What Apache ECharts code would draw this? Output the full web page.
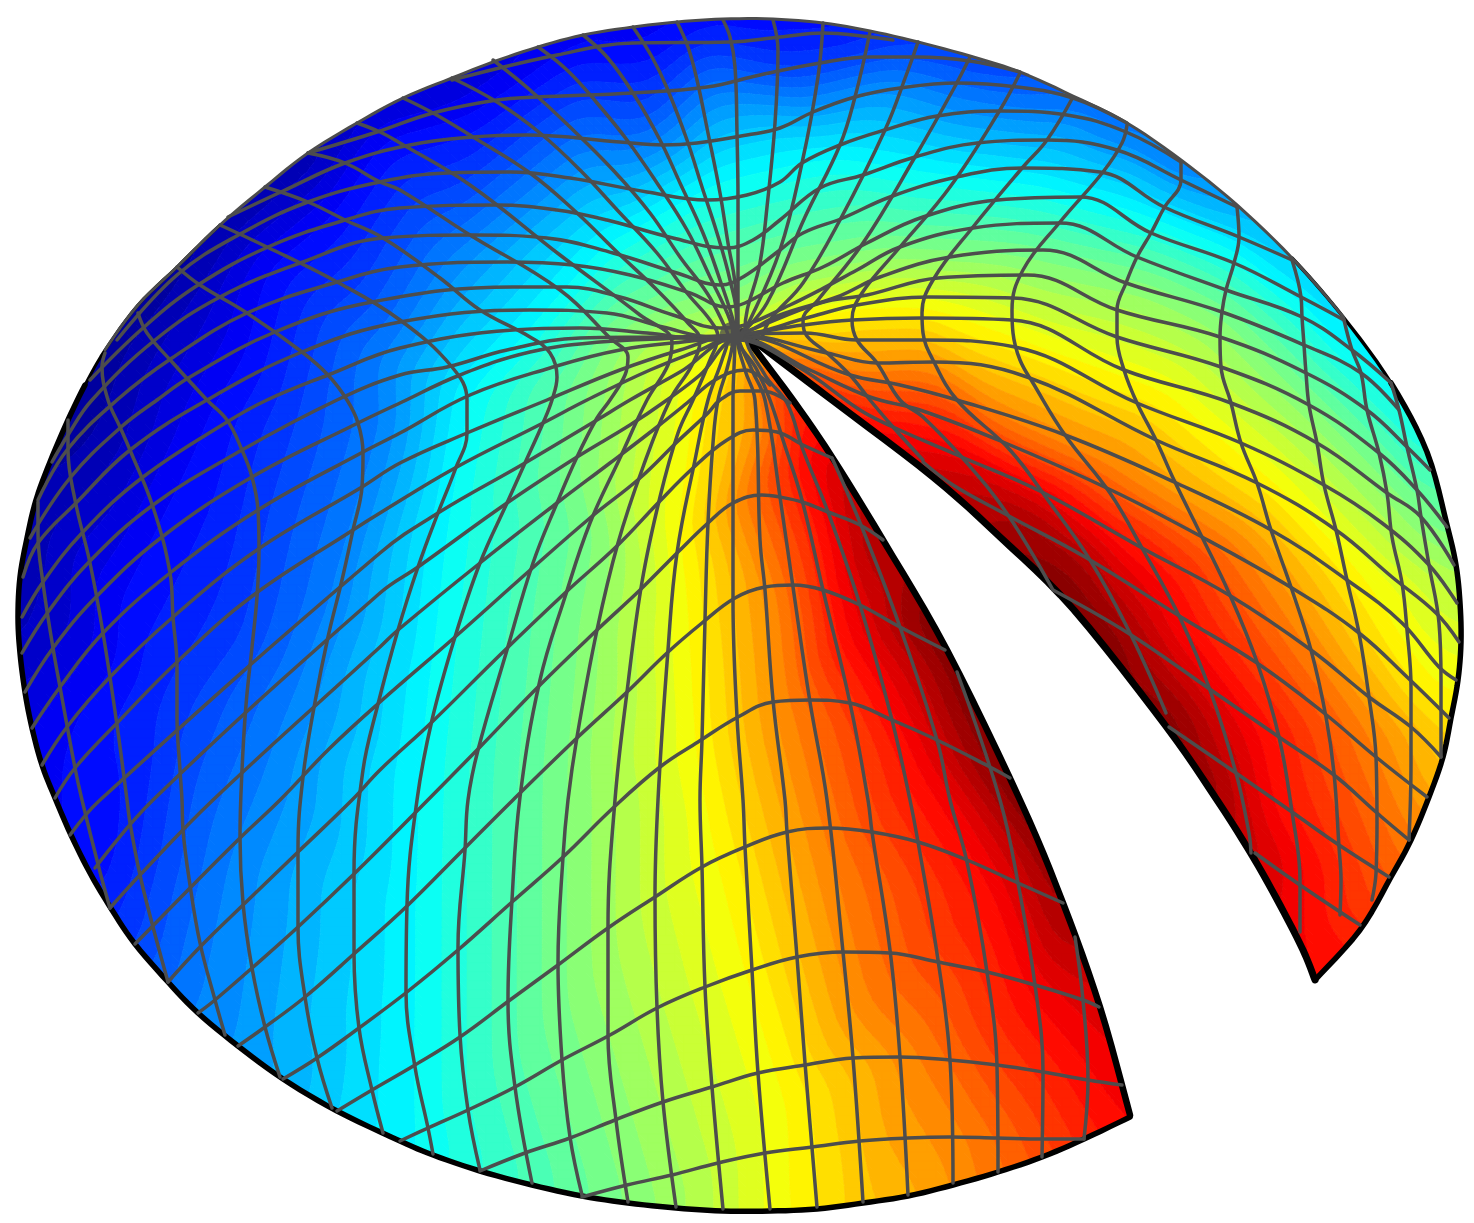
<!DOCTYPE html>
<html><head><meta charset="utf-8"><style>html,body{margin:0;padding:0;background:#fff}#c{width:1474px;height:1223px}</style>
<script src="https://cdn.jsdelivr.net/npm/echarts@6/dist/echarts.min.js"></script></head><body><div id="c"></div><script>
// ---------- outline ----------
const rimPoints=[[1130,1117],[1084,1139],[1042,1157],[998,1172],[953,1185],[908,1196],[863,1203],[817,1209],[770,1211],[723,1211],[676,1208],[628,1203],[582,1196],[532,1185],[480,1171],[433,1155],[400,1141],[337,1111],[283,1079],[238,1046],[198,1013],[168,982],[135,944],[112,910],[90,873],[71,835],[55,798],[42,765],[32,728],[25,692],[20,653],[18,617],[20,577],[27,538],[36,500],[50,462],[68,420],[85,385],[105,350],[138,305],[177,267],[220,225],[265,187],[308,153],[357,123],[403,98],[452,78],[493,62],[538,47],[583,35],[633,27],[677,22],[723,19],[773,19],[823,23],[870,31],[918,42],[970,56],[1020,72],[1073,96],[1127,123],[1181,160],[1237,205],[1292,258],[1344,318],[1391,383],[1427,452],[1447,525],[1456,565],[1460,603],[1461,642],[1458,680],[1451,718],[1443,757],[1429,797],[1411,840],[1391,877],[1360,930],[1315,980]];
const slitUpper=[[1315,980],[1303,950],[1280,905],[1253,857],[1217,800],[1165,725],[1074,610],[1000,537],[933,477],[832,400],[742,332]];
const slitLower=[[742,332],[793,400],[832,457],[883,540],[947,650],[1020,800],[1063,903],[1100,1007],[1130,1115]];
const apexHub=[[732,334]];
// ---------- mesh curves, "vertical" family ----------
const P_a=[[38,502],[38,533],[43,583],[53,648],[60,687],[75,768],[82,800],[100,872],[110,908]];
const P_b=[[68,420],[68,450],[75,500],[90,563],[103,633],[117,725],[127,800],[130,823],[140,875],[153,927],[168,982]];
const P_c=[[105,353],[102,367],[108,400],[120,427],[130,450],[153,507],[170,573],[173,617],[177,667],[177,717],[180,770],[182,800],[183,830],[190,885],[200,943],[215,1000],[225,1035]];
const P_d=[[138,313],[147,333],[173,363],[207,400],[227,420],[242,450],[252,477],[258,510],[259,550],[257,597],[252,647],[246,705],[242,770],[240,837],[243,903],[252,968],[265,1027],[280,1077]];
const P_e=[[177,267],[200,285],[247,313],[302,352],[328,375],[347,400],[358,423],[363,453],[362,487],[353,530],[342,580],[328,637],[315,702],[303,777],[298,850],[298,927],[305,997],[317,1058],[332,1108]];
const P_f=[[220,225],[267,247],[337,282],[400,320],[452,367],[467,400],[467,433],[455,470],[438,513],[418,567],[398,630],[377,708],[363,770],[354,873],[354,953],[359,1028],[372,1090],[383,1133]];
const P_g=[[265,187],[308,202],[345,220],[383,238],[440,278],[480,310],[530,337],[550,353],[557,377],[552,400],[543,423],[525,463],[507,503],[480,563],[455,637],[432,720],[417,800],[407,905],[406,992],[415,1067],[428,1128],[433,1154]];
const P_h=[[308,153],[345,163],[380,182],[400,190],[470,235],[560,290],[610,338],[628,357],[625,375],[610,400],[597,418],[577,457],[557,503],[533,563],[507,650],[478,750],[468,800],[465,850],[458,947],[460,1035],[468,1110],[480,1170]];
const P_i=[[357,123],[380,132],[400,143],[470,185],[560,255],[640,315],[672,342],[668,365],[647,400],[620,458],[590,523],[565,597],[540,680],[520,797],[512,900],[508,1000],[515,1087],[532,1183]];
const P_j=[[403,98],[433,113],[473,137],[530,173],[577,213],[617,252],[657,290],[688,323],[700,340],[692,365],[670,400],[643,467],[618,543],[597,630],[577,737],[568,800],[563,857],[558,963],[562,1060],[570,1137],[582,1195]];
const P_k=[[452,78],[497,102],[540,133],[580,170],[620,213],[657,253],[687,293],[710,320],[718,337],[710,360],[693,400],[678,433],[660,497],[642,582],[627,692],[615,800],[608,928],[608,1035],[616,1120],[628,1202]];
const P_l=[[493,60],[530,90],[570,127],[613,170],[650,213],[680,257],[707,293],[723,323],[728,337],[722,360],[708,400],[695,460],[677,553],[668,650],[658,800],[655,897],[657,1008],[663,1102],[676,1207]];
const P_m=[[538,47],[567,70],[597,103],[627,140],[657,183],[687,230],[710,277],[730,320],[733,337],[728,365],[718,400],[713,443],[708,523],[705,620],[702,740],[700,800],[702,867],[705,987],[712,1087],[723,1209]];
const P_n=[[583,35],[607,57],[633,93],[660,140],[680,183],[703,233],[720,280],[733,320],[735,335],[733,400],[733,497],[733,600],[737,717],[743,800],[745,847],[752,970],[758,1073],[770,1209]];
const P_o=[[633,27],[652,57],[667,88],[687,140],[702,187],[717,233],[730,280],[737,320],[737,335],[745,370],[755,400],[760,540],[765,590],[773,700],[785,800],[787,832],[797,957],[805,1063],[817,1207]];
const P_p=[[677,22],[688,47],[697,80],[708,133],[720,193],[728,243],[735,283],[738,335],[752,370],[765,400],[780,497],[793,587],[810,702],[827,800],[843,952],[853,1058],[863,1202]];
const P_q=[[723,20],[730,37],[735,67],[737,133],[738,200],[738,253],[738,335],[757,370],[770,400],[783,440],[802,500],[823,590],[850,703],[868,800],[872,832],[890,950],[900,1057],[908,1195]];
const P_r=[[773,20],[778,50],[775,123],[767,207],[760,263],[745,330],[765,375],[787,403],[803,450],[828,512],[860,605],[892,720],[910,800],[918,842],[938,960],[950,1060],[953,1183]];
const P_s=[[832,458],[863,530],[900,627],[937,740],[950,800],[967,862],[987,972],[997,1067],[998,1172]];
const P_t=[[957,672],[1000,800],[1018,883],[1035,985],[1043,1072],[1042,1157]];
const P_u=[[1075,937],[1083,1000],[1088,1080],[1084,1139]];
const P_s2=[[823,23],[818,77],[802,163],[780,250],[750,320],[740,335]];
const P_t2=[[870,32],[855,97],[840,145],[805,217],[767,303],[740,335]];
const P_u2=[[918,42],[907,73],[885,130],[840,220],[803,283],[770,320],[762,338]];
const R_0=[[970,57],[953,90],[915,157],[863,243],[818,300],[803,320],[805,333],[827,353],[850,375],[870,400],[893,427],[923,460]];
const R_1=[[1020,73],[1000,110],[950,187],[900,247],[862,293],[852,320],[857,340],[877,363],[900,400],[923,417],[967,463],[1008,515],[1053,590]];
const R_2=[[1073,97],[1047,140],[1023,167],[973,227],[933,280],[922,313],[923,333],[933,360],[957,400],[1010,450],[1050,503],[1090,560],[1130,633],[1166,713]];
const R_3=[[1127,125],[1122,143],[1103,172],[1060,222],[1023,270],[1012,310],[1013,333],[1020,360],[1033,383],[1065,435],[1110,493],[1142,548],[1181,620],[1211,693],[1236,773],[1249,833],[1251,853]];
const R_4=[[1181,162],[1181,180],[1164,208],[1151,233],[1137,257],[1126,283],[1117,310],[1117,337],[1124,370],[1137,403],[1156,440],[1174,480],[1202,537],[1229,593],[1257,662],[1279,737],[1292,812],[1300,880],[1300,932]];
const R_5=[[1237,207],[1239,237],[1234,263],[1226,290],[1222,312],[1220,337],[1221,367],[1231,403],[1241,443],[1257,483],[1271,530],[1292,590],[1311,650],[1326,717],[1334,773],[1339,847],[1341,880],[1340,915]];
const R_6=[[1292,260],[1301,297],[1302,317],[1304,345],[1306,373],[1309,405],[1317,443],[1324,485],[1336,530],[1347,580],[1359,633],[1369,697],[1376,757],[1377,823],[1376,873],[1372,900]];
const R_7=[[1344,320],[1352,350],[1361,373],[1367,410],[1379,453],[1387,493],[1392,537],[1402,583],[1407,630],[1411,687],[1411,763],[1409,840]];
const R_8=[[1391,383],[1399,410],[1407,447],[1417,490],[1421,517],[1429,565],[1439,623],[1441,680],[1441,757]];
// ---------- mesh curves, "horizontal" family ----------
const Q_a=[[582,1197],[627,1185],[672,1175],[718,1163],[765,1153],[812,1147],[860,1141],[908,1138],[950,1137],[997,1138],[1043,1139],[1084,1139]];
const Q_b=[[480,1171],[525,1153],[570,1138],[615,1120],[663,1102],[712,1087],[758,1073],[805,1065],[853,1058],[900,1057],[950,1060],[997,1065],[1043,1072],[1088,1080],[1122,1085]];
const Q_c=[[400,1141],[428,1128],[468,1110],[515,1087],[562,1060],[610,1035],[657,1008],[705,987],[752,970],[797,957],[843,952],[890,953],[938,962],[987,972],[1035,985],[1083,1000],[1099,1007]];
const Q_d=[[337,1111],[372,1090],[415,1065],[460,1037],[510,1000],[558,965],[608,928],[655,897],[702,867],[745,847],[787,832],[828,828],[872,832],[918,842],[967,860],[1018,883],[1063,903]];
const Q_e=[[283,1079],[317,1058],[359,1028],[407,992],[458,950],[512,902],[563,857],[613,808],[660,767],[698,742],[738,717],[773,702],[810,700],[850,703],[892,720],[937,740],[990,767],[1010,778]];
const Q_f=[[238,1046],[265,1027],[305,997],[355,953],[406,907],[463,850],[513,800],[578,737],[627,692],[667,653],[702,623],[735,598],[765,587],[793,585],[823,590],[860,605],[900,627],[945,650]];
const Q_g=[[198,1013],[215,1000],[252,968],[298,927],[355,873],[415,813],[480,747],[540,685],[597,630],[640,590],[678,552],[708,523],[733,503],[762,495],[780,497],[802,502],[828,512],[860,525],[883,540]];
const Q_h=[[168,982],[200,947],[243,905],[298,852],[352,800],[380,770],[432,722],[502,653],[565,593],[618,545],[658,503],[693,468],[727,440],[753,430],[777,432],[803,445],[832,458]];
const Q_i=[[135,944],[190,888],[240,838],[280,800],[330,748],[380,702],[455,637],[528,572],[590,518],[640,478],[677,442],[708,413],[720,400],[740,391],[763,391],[790,403]];
const Q_j=[[110,908],[140,875],[213,800],[380,647],[398,630],[480,563],[557,503],[610,463],[657,427],[687,403],[715,380],[745,370],[770,385]];
const Q_j2=[[923,462],[953,485],[1007,515],[1085,557],[1181,617],[1257,663],[1324,713],[1376,757],[1427,797]];
const Q_i2=[[1053,590],[1128,633],[1211,690],[1279,737],[1334,775],[1377,813],[1409,840]];
const Q_h2=[[1169,727],[1236,773],[1292,812],[1339,845],[1389,877]];
const Q_g2=[[1255,853],[1300,885],[1360,925]];
const Q_k=[[95,868],[153,800],[380,593],[418,567],[507,503],[577,457],[630,425],[667,400],[700,375],[737,340],[800,368],[860,410],[893,427],[957,455],[1042,492],[1142,548],[1229,595],[1311,650],[1369,697],[1411,727],[1441,757]];
const Q_l=[[70,835],[100,800],[380,553],[438,513],[525,463],[597,420],[630,400],[680,372],[737,338],[810,370],[870,397],[920,410],[1003,442],[1111,490],[1202,537],[1292,588],[1359,633],[1407,677],[1449,718]];
const Q_m=[[55,798],[75,768],[117,723],[177,662],[251,597],[353,530],[380,513],[455,468],[543,423],[587,400],[650,370],[700,350],[737,336],[850,375],[900,385],[957,400],[1065,435],[1174,482],[1271,530],[1347,580],[1402,623],[1439,667],[1456,680]];
const Q_n=[[42,765],[67,727],[110,677],[173,617],[257,550],[362,487],[400,463],[467,433],[547,400],[620,370],[680,350],[737,335],[827,353],[877,363],[933,362],[1027,377],[1156,440],[1257,483],[1336,530],[1392,577],[1436,613],[1459,642]];
const Q_o=[[32,728],[60,687],[103,633],[170,573],[258,510],[363,452],[400,433],[470,395],[550,368],[620,350],[700,340],[737,335],[805,333],[857,340],[925,340],[1015,347],[1137,403],[1241,443],[1324,485],[1382,523],[1429,565],[1457,603]];
const Q_p=[[25,692],[53,648],[96,597],[162,537],[252,477],[358,423],[400,403],[460,375],[530,352],[600,342],[680,338],[737,335],[803,325],[852,320],[922,318],[1012,320],[1124,370],[1231,403],[1317,443],[1387,493],[1421,517],[1454,565]];
const Q_q=[[22,653],[48,612],[89,562],[153,505],[242,450],[337,400],[400,375],[447,367],[507,350],[580,338],[663,337],[737,335],[810,317],[857,305],[928,297],[1013,298],[1117,337],[1221,367],[1309,405],[1379,453],[1417,490],[1447,527]];
const Q_r=[[22,617],[43,582],[82,533],[143,477],[227,422],[267,400],[328,375],[400,348],[513,330],[580,328],[647,333],[713,340],[737,335],[820,303],[867,295],[938,278],[1027,275],[1117,310],[1220,337],[1306,373],[1367,410],[1407,447],[1430,470]];
const Q_s=[[23,577],[38,543],[76,503],[130,450],[207,400],[302,352],[400,322],[530,310],[607,313],[663,327],[713,337],[737,335],[780,315],[837,297],[880,277],[950,257],[1043,250],[1126,283],[1222,312],[1304,345],[1361,373],[1399,410]];
const Q_t=[[30,538],[70,478],[120,428],[157,400],[190,377],[275,332],[372,302],[513,287],[567,287],[620,297],[673,315],[720,328],[745,325],[790,305],[820,290],[857,270],[900,247],[973,228],[1060,223],[1137,257],[1226,290],[1302,317],[1352,350],[1391,383]];
const Q_u=[[38,500],[67,450],[117,400],[172,358],[247,313],[337,282],[400,267],[507,262],[573,265],[630,275],[690,293],[727,307],[745,303],[783,283],[823,267],[867,243],[923,217],[998,200],[1080,197],[1151,233],[1234,263],[1301,297],[1344,320]];
const Q_v=[[52,462],[68,435],[92,400],[155,340],[220,297],[300,263],[383,238],[473,235],[547,238],[613,253],[677,273],[720,285],[743,277],[780,250],[803,233],[843,218],[890,197],[957,177],[1023,168],[1100,172],[1164,207],[1239,237],[1292,260]];
const Q_w=[[90,380],[143,328],[198,285],[268,247],[345,220],[400,208],[497,205],[557,210],[607,220],[673,238],[727,248],[753,240],[780,220],[820,188],[863,175],[915,157],[977,143],[1047,140],[1117,150],[1181,180],[1237,207]];
const Q_x=[[117,340],[177,275],[242,233],[308,202],[380,182],[447,173],[510,172],[570,178],[647,192],[707,200],[747,195],[780,182],[802,163],[840,145],[885,130],[937,116],[1000,111],[1067,115],[1126,132],[1181,162]];
const Q_y=[[228,217],[283,191],[345,163],[410,145],[473,137],[527,135],[620,142],[663,145],[697,143],[747,135],[780,128],[813,112],[855,97],[900,88],[957,83],[1017,87],[1073,98],[1127,123]];
const Q_z=[[308,153],[377,132],[433,113],[497,100],[537,97],[633,93],[707,87],[760,75],[820,63],[870,57],[917,57],[970,61],[1020,72]];
const Q_z2=[[452,80],[557,55],[633,43],[730,42],[780,37],[823,33],[870,37],[893,40]];
const meshCurves=[P_a,P_b,P_c,P_d,P_e,P_f,P_g,P_h,P_i,P_j,P_k,P_l,P_m,P_n,P_o,P_p,P_q,P_r,P_s,P_t,P_u,P_s2,P_t2,P_u2,R_0,R_1,R_2,R_3,R_4,R_5,R_6,R_7,R_8,Q_a,Q_b,Q_c,Q_d,Q_e,Q_f,Q_g,Q_h,Q_i,Q_j,Q_j2,Q_i2,Q_h2,Q_g2,Q_k,Q_l,Q_m,Q_n,Q_o,Q_p,Q_q,Q_r,Q_s,Q_t,Q_u,Q_v,Q_w,Q_x,Q_y,Q_z,Q_z2];
// ---------- colour readings: places where the surface shows a given jet level ----------
const level125=[[60,770],[117,600],[207,417],[267,267],[333,213],[480,110],[580,43]];
const level250=[[1181,170],[1077,110],[893,78],[713,90],[580,150],[447,260],[380,360],[385,420],[365,490],[335,590],[300,683],[267,767],[225,870]];
const level375=[[1367,367],[1307,307],[1234,250],[1140,213],[1043,187],[927,173],[827,157],[713,183],[613,240],[530,333],[467,397],[447,517],[430,667],[420,767],[417,900],[417,1000],[417,1133]];
const level500=[[1374,467],[1307,400],[1224,317],[1153,283],[1027,257],[893,250],[793,267],[750,282],[680,300],[613,333],[587,383],[580,467],[597,533],[580,633],[568,767],[567,1000]];
const level625=[[1427,683],[1407,653],[1357,570],[1274,483],[1167,393],[1074,360],[1013,337],[927,307],[860,307],[790,320],[700,372],[680,533],[690,633],[697,750],[713,833],[747,967],[787,1100]];
const level750=[[860,375],[1000,420],[1107,467],[1240,547],[1307,647],[1367,730],[1411,835],[770,430],[780,600],[790,700],[833,867],[867,1000],[917,1050],[970,1140]];
const level875=[[960,443],[1107,535],[1190,640],[1257,730],[1274,813],[803,450],[847,633],[920,767],[1000,900],[1033,1000],[1083,1060]];
const level950=[[860,500],[893,567],[927,667],[967,767],[1017,833],[1057,933],[1027,510],[1093,560],[1120,610],[1170,680],[1207,763]];
const colourLevels=[[level125,.125],[level250,.25],[level375,.375],[level500,.5],[level625,.625],[level750,.75],[level875,.875],[level950,.95]];
const rimColours=[[1135,1120,.88],[1086,1145,.84],[1044,1163,.8],[1000,1178,.77],[955,1191,.73],[910,1202,.7],[864,1209,.68],[790,1217,.625],[723,1217,.57],[676,1214,.53],[628,1209,.5],[581,1203,.47],[530,1191,.44],[478,1177,.41],[431,1161,.38],[398,1147,.36],[334,1116,.33],[279,1084,.29],[234,1051,.27],[193,1017,.25],[163,986,.22],[130,947,.18],[104,911,.15],[74,860,.13],[49,800,.12],[25,730,.1],[14,650,.06],[12,617,.05],[14,577,.05],[21,538,.04],[31,498,.04],[45,460,.03],[62,417,.02],[80,381,.02],[100,346,.02],[133,300,.01],[172,262,.02],[216,220,.03],[261,182,.03],[305,148,.03],[354,118,.05],[400,93,.06],[450,72,.07],[491,56,.08],[536,41,.09],[582,29,.09],[632,21,.1],[677,16,.11],[723,13,.12],[773,13,.125],[824,17,.13],[871,25,.135],[920,36,.16],[972,50,.17],[1022,66,.18],[1075,90,.2],[1130,118,.22],[1185,155,.24],[1241,200,.27],[1296,254,.3],[1348,314,.32],[1396,377,.35],[1432,450,.39],[1453,523,.47],[1462,564,.52],[1465,603,.56],[1467,642,.59],[1464,681,.61],[1457,720,.64],[1449,759,.67],[1435,800,.7],[1417,843,.74],[1396,880,.78],[1365,934,.84],[1320,985,.875]];
const slitColours=[[827,457,.9],[877,547,.97],[927,627,1],[960,683,1],[993,750,1],[1023,817,1],[1050,867,.98],[1073,933,.95],[1100,1007,.91],[1123,1083,.89],[893,433,.88],[947,477,.93],[1027,547,.98],[1060,587,1],[1110,640,1],[1143,683,.98],[1167,720,1],[1207,780,.98],[1251,847,.93],[1300,943,.88]];
const apexColours=[[773,330,.63],[763,360,.78],[745,375,.72],[725,375,.65],[697,340,.56],[705,305,.5],[740,293,.47],[765,300,.53],[800,375,.82],[832,400,.85],[790,410,.85],[770,380,.8],[737,335,.62]];
const innerColours=[[233,633,.18],[167,700,.17],[100,850,.13],[383,333,.23],[793,67,.18],[647,117,.2],[380,133,.12],[200,300,.07],[120,450,.06],[70,620,.08],[300,420,.19]];
const bandCount=48;
const fieldStep=9;
const fieldBlur=1.6;
// ---------- helpers ----------
function jet(v){const c=t=>Math.round(255*Math.max(0,Math.min(1,1.5-Math.abs(4*v-t))));return 'rgb('+c(3)+','+c(2)+','+c(1)+')';}
function delaunay(p){
  const s=[[-5000,-5000],[8000,-5000],[1000,9000]],pts=p.concat(s),n=p.length;
  let tris=[[n,n+1,n+2]];
  const inC=(t,q)=>{const[a,b,c]=t.map(i=>pts[i]);
    const ax=a[0]-q[0],ay=a[1]-q[1],bx=b[0]-q[0],by=b[1]-q[1],cx=c[0]-q[0],cy=c[1]-q[1];
    const d=(ax*ax+ay*ay)*(bx*cy-cx*by)-(bx*bx+by*by)*(ax*cy-cx*ay)+(cx*cx+cy*cy)*(ax*by-bx*ay);
    const o=(b[0]-a[0])*(c[1]-a[1])-(b[1]-a[1])*(c[0]-a[0]);return o>0?d>0:d<0;};
  for(let i=0;i<n;i++){const bad=[],keep=[];tris.forEach(t=>(inC(t,pts[i])?bad:keep).push(t));
    const e={};bad.forEach(t=>[[t[0],t[1]],[t[1],t[2]],[t[2],t[0]]].forEach(([a,b])=>{const k=Math.min(a,b)+'_'+Math.max(a,b);e[k]=e[k]?null:[a,b];}));
    Object.values(e).forEach(v=>{if(v)keep.push([v[0],v[1],i]);});tris=keep;}
  return tris.filter(t=>t.every(i=>i<n));
}
function clipBand(poly,lo,hi){
  const cut=(P,inside,lim)=>{const o=[];for(let i=0;i<P.length;i++){const a=P[i],b=P[(i+1)%P.length],ia=inside(a[2]),ib=inside(b[2]);
    if(ia)o.push(a);if(ia!==ib){const t=(lim-a[2])/(b[2]-a[2]);o.push([a[0]+t*(b[0]-a[0]),a[1]+t*(b[1]-a[1]),lim]);}}return o;};
  let r=cut(poly,v=>v>=lo,lo);if(r.length)r=cut(r,v=>v<=hi,hi);return r;
}
function rounded(pts){ // Catmull-Rom drawing path through the read points
  const o=[];for(let i=0;i<pts.length-1;i++){const a=pts[Math.max(0,i-1)],b=pts[i],c=pts[i+1],d=pts[Math.min(pts.length-1,i+2)];
    for(let k=0;k<6;k++){const t=k/6,t2=t*t,t3=t2*t,f=j=>.5*(2*b[j]+(c[j]-a[j])*t+(2*a[j]-5*b[j]+4*c[j]-d[j])*t2+(3*b[j]-a[j]-3*c[j]+d[j])*t3);o.push([f(0),f(1)]);}}
  o.push(pts[pts.length-1]);return o;
}
// colour field on a drawing raster, from the readings
const samples=[];
colourLevels.forEach(([pts,v])=>pts.forEach(q=>samples.push([q[0],q[1],v])));
[rimColours,slitColours,apexColours,innerColours].forEach(l=>l.forEach(q=>samples.push(q)));
const cols=Math.ceil(1474/fieldStep)+1,rows=Math.ceil(1223/fieldStep)+1;
let F=new Float64Array(cols*rows),M=new Float64Array(cols*rows);
delaunay(samples).forEach(t=>{const[a,b,c]=t.map(i=>samples[i]);
  const det=(b[1]-c[1])*(a[0]-c[0])+(c[0]-b[0])*(a[1]-c[1]);if(!det)return;
  const x0=Math.max(0,Math.floor(Math.min(a[0],b[0],c[0])/fieldStep)),x1=Math.min(cols-1,Math.ceil(Math.max(a[0],b[0],c[0])/fieldStep));
  const y0=Math.max(0,Math.floor(Math.min(a[1],b[1],c[1])/fieldStep)),y1=Math.min(rows-1,Math.ceil(Math.max(a[1],b[1],c[1])/fieldStep));
  for(let y=y0;y<=y1;y++)for(let x=x0;x<=x1;x++){const X=x*fieldStep,Y=y*fieldStep;
    const l1=((b[1]-c[1])*(X-c[0])+(c[0]-b[0])*(Y-c[1]))/det,l2=((c[1]-a[1])*(X-c[0])+(a[0]-c[0])*(Y-c[1]))/det,l3=1-l1-l2;
    if(l1>=-1e-9&&l2>=-1e-9&&l3>=-1e-9){F[y*cols+x]=l1*a[2]+l2*b[2]+l3*c[2];M[y*cols+x]=1;}}
});
function blurred(){const R=Math.ceil(fieldBlur*2.5),w=[];for(let i=-R;i<=R;i++)w.push(Math.exp(-i*i/(2*fieldBlur*fieldBlur)));
  let V=F.map((v,i)=>v*M[i]),W=M.slice();
  const pass=(src,dx,dy)=>{const o=new Float64Array(src.length);for(let y=0;y<rows;y++)for(let x=0;x<cols;x++){let s=0;for(let i=-R;i<=R;i++){const X=x+i*dx,Y=y+i*dy;if(X>=0&&X<cols&&Y>=0&&Y<rows)s+=w[i+R]*src[Y*cols+X];}o[y*cols+x]=s;}return o;};
  V=pass(pass(V,1,0),0,1);W=pass(pass(W,1,0),0,1);
  return V.map((v,i)=>W[i]>1e-6?v/W[i]:0);}
F=blurred();
const bandPolys=[];
const idx=v=>Math.max(0,Math.min(bandCount-1,Math.floor(v*bandCount)));
for(let y=0;y<rows-1;y++){let x=0;while(x<cols-1){
  const X=x*fieldStep,Y=y*fieldStep,g=(i,j)=>F[j*cols+i];
  const c=[[X,Y,g(x,y)],[X+fieldStep,Y,g(x+1,y)],[X+fieldStep,Y+fieldStep,g(x+1,y+1)],[X,Y+fieldStep,g(x,y+1)]];
  const ids=c.map(q=>idx(q[2]));
  if(ids.every(i=>i===ids[0])){let e=x+1;while(e<cols-1&&[g(e+1,y),g(e+1,y+1)].every(v=>idx(v)===ids[0]))e++;
    const XE=e*fieldStep;bandPolys.push([ids[0],[[X,Y],[XE,Y],[XE,Y+fieldStep],[X,Y+fieldStep]]]);x=e;continue;}
  [[c[0],c[1],c[2]],[c[0],c[2],c[3]]].forEach(T=>{const vs=T.map(q=>q[2]),a=idx(Math.min(...vs)),b=idx(Math.max(...vs));
    for(let i=a;i<=b;i++){const r=clipBand(T,i/bandCount,(i+1)/bandCount);if(r.length>2)bandPolys.push([i,r]);}});
  x++;}}
const rimCurve=rounded(rimPoints),slitUpperCurve=rounded(slitUpper),slitLowerCurve=rounded(slitLower);
const outline=rimCurve.concat(slitUpperCurve.slice(1),slitLowerCurve.slice(1,-1));
const cut=6; // points per read rim segment in the rounded path
const rimSlice=(a,b)=>rimCurve.slice(a*cut,b*cut+1);
const chart=echarts.init(document.getElementById('c'),null,{renderer:'canvas'});
const lineSeries=(data,color,width,smooth)=>({type:'line',data,smooth:smooth?.4:false,symbol:'none',showSymbol:false,silent:true,animation:false,clip:false,
  lineStyle:{color,width,cap:'round',join:'round'},z:3});
chart.setOption({animation:false,backgroundColor:'#fff',
  grid:{left:0,right:0,top:0,bottom:0},
  xAxis:{type:'value',min:0,max:1474,show:false},
  yAxis:{type:'value',min:0,max:1223,inverse:true,show:false},
  series:[
   {type:'custom',coordinateSystem:'cartesian2d',silent:true,animation:false,z:1,data:[[0,0]],clip:false,
    renderItem:(p,api)=>({type:'group',
      clipPath:{type:'polygon',shape:{points:outline.map(q=>api.coord(q))}},
      children:bandPolys.map(([i,r])=>{const c=jet((i+.5)/bandCount);return{type:'polygon',shape:{points:r.map(q=>api.coord([q[0],q[1]]))},style:{fill:c,stroke:c,lineWidth:.7},silent:true};})})},
   lineSeries(rimSlice(0,37),'#000',5.5),lineSeries(rimSlice(37,41),'#000',3),
   lineSeries(rimSlice(65,78),'#000',5.5),lineSeries(rimSlice(63,65),'#000',3.5),
   lineSeries(slitUpperCurve,'#000',7),lineSeries(slitLowerCurve,'#000',6.5),
   ...meshCurves.map(c=>lineSeries(c,'#4d4d4d',3.5,true)),
   lineSeries(rimSlice(38,64),'#4d4d4d',3),
   {type:'scatter',data:apexHub,symbol:'circle',symbolSize:24,silent:true,animation:false,itemStyle:{color:'#4d4d4d'},z:4}
  ]});
</script></body></html>
